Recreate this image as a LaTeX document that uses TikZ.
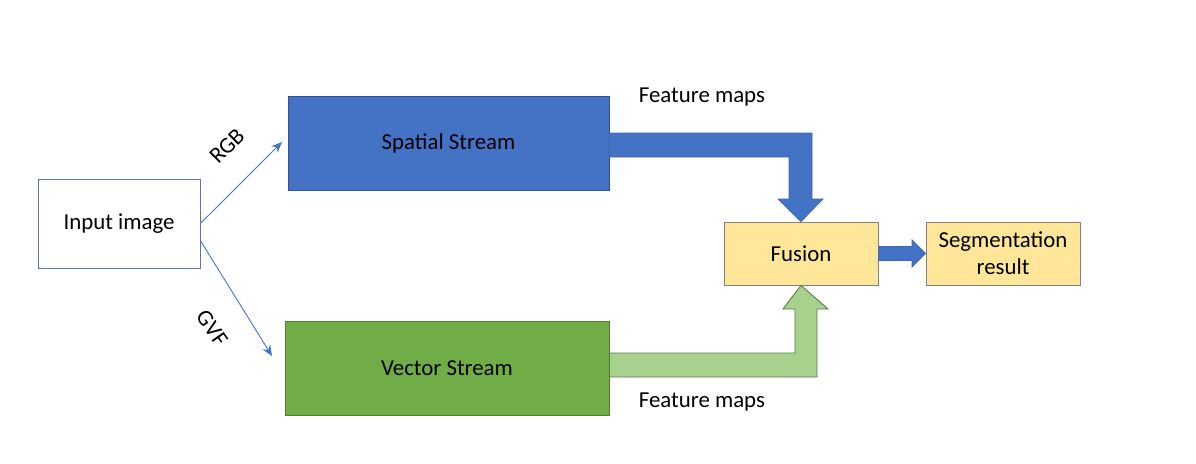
\documentclass[tikz,border=0pt]{standalone}
\usepackage{fontspec}
\setmainfont{Carlito}
\usetikzlibrary{arrows.meta, calc}

\definecolor{spatialblue}{HTML}{4472C4}
\definecolor{spatialedge}{HTML}{2F528F}
\definecolor{vectorgreen}{HTML}{70AD47}
\definecolor{vectoredge}{HTML}{507E32}
\definecolor{lightgreen}{HTML}{A9D18E}
\definecolor{fusionyellow}{HTML}{FFE699}

\begin{document}
\begin{tikzpicture}[x=0.02cm,y=-0.02cm,>={Stealth[length=6pt,width=5pt]},
  every node/.style={font=\fontsize{13}{15.5}\selectfont},
  block/.style={draw,rectangle,inner sep=0pt,align=center},
  thin arrow/.style={->,draw=spatialblue,line width=0.5pt}]

  \useasboundingbox (0,0) rectangle (1196,463);

  \node[block,draw=spatialblue!70!gray,minimum width=162*0.02cm,minimum height=89*0.02cm] (input) at (119,223.5) {Input image};
  \node[block,fill=spatialblue,draw=spatialedge,minimum width=321*0.02cm,minimum height=94*0.02cm] (spatial) at (448.5,143) {Spatial Stream};
  \node[block,fill=vectorgreen,draw=vectoredge,minimum width=324*0.02cm,minimum height=94*0.02cm] (vector) at (447,368) {Vector Stream};
  \node[block,fill=fusionyellow,draw=gray,minimum width=154*0.02cm,minimum height=63*0.02cm] (fusion) at (801,253.5) {Fusion};
  \node[block,fill=fusionyellow,draw=gray,minimum width=154*0.02cm,minimum height=63*0.02cm] (result) at (1003,253.5) {Segmentation\\result};

  \node (maps1) at (702,97) {Feature maps};
  \node (maps2) at (702,402) {Feature maps};

  \node[rotate=45] (rgb) at (227,146) {RGB};
  \node[rotate=-55] (gvf) at (212,328) {GVF};

  \coordinate (rgbstart) at ($(input.east)+(0,0)$);
  \coordinate (gvfstart) at ($(input.east)+(0,17)$);
  \coordinate (rgbend) at (282,142);
  \coordinate (gvfend) at (272,356);
  \draw[thin arrow] (rgbstart) -- (rgbend);
  \draw[thin arrow] (gvfstart) -- (gvfend);

  % feature maps from the spatial stream
  \fill[spatialblue,draw=spatialblue!90!black,line width=0.4pt]
    ($(spatial.east)+(0,-10)$) -- (812,133) -- (812,199) -- (823,199)
    -- (fusion.north) -- (778,199) -- (789,199) -- (789,157)
    -- ($(spatial.east)+(0,14)$) -- cycle;

  % feature maps from the vector stream
  \fill[lightgreen,draw=vectoredge!80!gray,line width=0.5pt]
    ($(vector.east)+(0,-15)$) -- (795,353) -- (795,309) -- (783,309)
    -- (fusion.south) -- (828,309) -- (817,309) -- (817,377)
    -- ($(vector.east)+(0,9)$) -- cycle;

  % fusion to result
  \fill[spatialblue,draw=spatialblue!90!black,line width=0.4pt]
    ($(fusion.east)+(0,-7)$) -- (912,246.5) -- (912,240) -- (result.west)
    -- (912,267) -- (912,260.5) -- ($(fusion.east)+(0,7)$) -- cycle;
\end{tikzpicture}
\end{document}
